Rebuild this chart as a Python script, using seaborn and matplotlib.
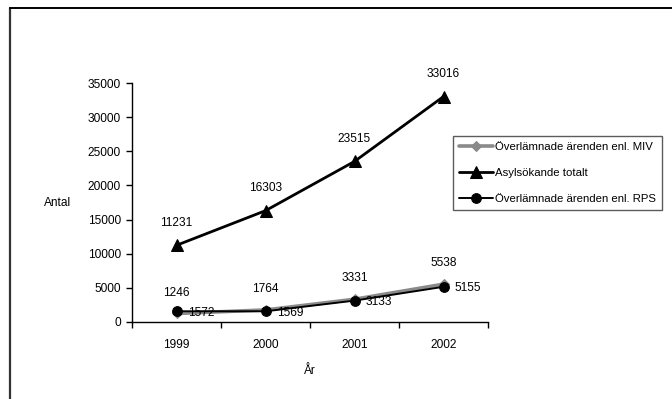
import numpy as np
import pandas as pd
import matplotlib
matplotlib.use("Agg")
import matplotlib.pyplot as plt
from matplotlib.lines import Line2D
import seaborn as sns

years = ["1999", "2000", "2001", "2002"]
miv = [1246, 1764, 3331, 5538]
asyl_total = [11231, 16303, 23515, 33016]
rps = [1572, 1569, 3133, 5155]

label_miv = "Överlämnade ärenden enl. MIV"
label_total = "Asylsökande totalt"
label_rps = "Överlämnade ärenden enl. RPS"

sns.set_theme(style="white")
plt.rcParams["font.family"] = ["Liberation Sans", "DejaVu Sans"]
plt.rcParams["text.color"] = "black"
plt.rcParams["xtick.color"] = "black"
plt.rcParams["ytick.color"] = "black"
plt.rcParams["axes.labelcolor"] = "black"
fs = 8.6

fig = plt.figure(figsize=(6.72, 3.99), dpi=100)
ax = fig.add_axes([132 / 672, 1 - 322 / 399, (488 - 132) / 672, (322 - 83) / 399])

df = pd.DataFrame({"År": years, "MIV": miv, "Totalt": asyl_total, "RPS": rps})

sns.lineplot(data=df, x="År", y="MIV", ax=ax, color="#8a8a8a", linewidth=2.6,
             marker="D", markersize=5, markeredgecolor="#8a8a8a", label=label_miv)
sns.lineplot(data=df, x="År", y="Totalt", ax=ax, color="black", linewidth=2.0,
             marker="^", markersize=8, markeredgecolor="black", label=label_total)
sns.lineplot(data=df, x="År", y="RPS", ax=ax, color="black", linewidth=1.4,
             marker="o", markersize=7, markeredgecolor="black", label=label_rps)

xs = np.arange(len(years))
for x, v in zip(xs, asyl_total):
    ax.annotate(str(v), (x, v), xytext=(0, 16), textcoords="offset points",
                ha="center", va="center", fontsize=fs)
for x, v in zip(xs, miv):
    ax.annotate(str(v), (x, v), xytext=(0, 15), textcoords="offset points",
                ha="center", va="center", fontsize=fs)
for x, v in zip(xs, rps):
    ax.annotate(str(v), (x, v), xytext=(8, -1), textcoords="offset points",
                ha="left", va="center", fontsize=fs)

ax.set_xlim(-0.5, len(years) - 0.5)
ax.set_ylim(0, 35000)
ax.set_yticks(np.arange(0, 35001, 5000))
ax.set_xticks(xs)
ax.set_xticklabels(years)
ax.set_xticks(np.arange(-0.5, len(years), 1.0), minor=True)
ax.tick_params(axis="x", which="major", length=0, pad=12.5, labelsize=fs)
ax.tick_params(axis="x", which="minor", length=4, width=1, color="black", direction="out", bottom=True)
ax.tick_params(axis="y", which="major", length=4, width=1, color="black", direction="out",
               left=True, pad=4, labelsize=fs)

for side in ["top", "right"]:
    ax.spines[side].set_visible(False)
for side in ["left", "bottom"]:
    ax.spines[side].set_color("black")
    ax.spines[side].set_linewidth(1.0)

ax.set_xlabel("År", fontsize=fs, labelpad=10)
ax.set_ylabel("Antal", fontsize=fs, rotation=0, labelpad=0)
ax.yaxis.set_label_coords(-0.208, 0.5)
ax.yaxis.label.set_va("center")
ax.yaxis.label.set_ha("center")

handles, labels = ax.get_legend_handles_labels()
if ax.get_legend() is not None:
    ax.get_legend().remove()
leg_fs = 8.2
leg = fig.legend(handles, labels, loc="upper left",
                 bbox_to_anchor=(453 / 672, 1 - 136 / 399),
                 bbox_transform=fig.transFigure,
                 fontsize=leg_fs, frameon=True, fancybox=False, shadow=False,
                 handlelength=3.0, handletextpad=0.15, labelspacing=1.4,
                 borderpad=0.52, borderaxespad=0, numpoints=1)
leg.get_frame().set_edgecolor("#333333")
leg.get_frame().set_linewidth(1.0)

# page border (left and top edges)
fig.add_artist(Line2D([9.5 / 672, 9.5 / 672], [0, 1 - 8 / 399], transform=fig.transFigure,
                      color="#333333", linewidth=1.6))
fig.add_artist(Line2D([9.5 / 672, 1], [1 - 8 / 399, 1 - 8 / 399], transform=fig.transFigure,
                      color="black", linewidth=1.4))

fig.savefig("out.png", dpi=100)
